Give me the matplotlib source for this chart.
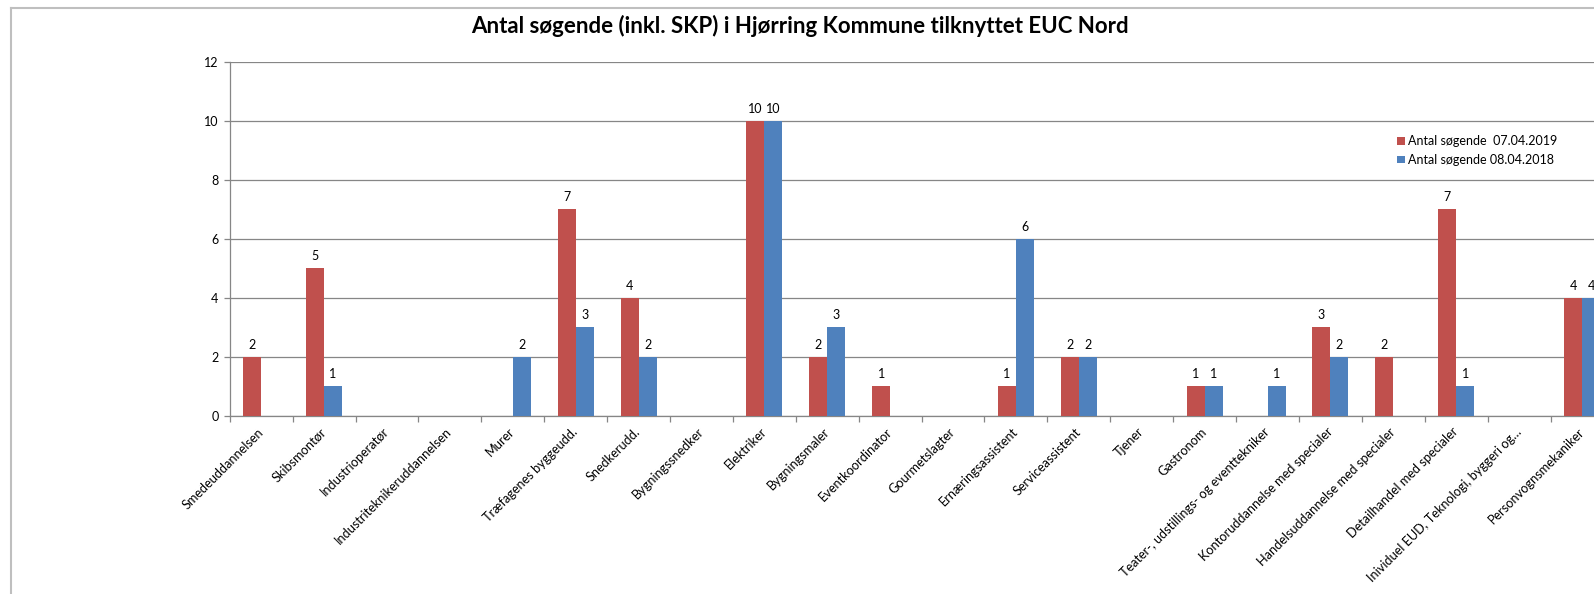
import matplotlib

matplotlib.use("Agg")
import matplotlib.pyplot as plt
import numpy as np
from matplotlib.lines import Line2D
from matplotlib.patches import Patch

plt.rcParams["font.family"] = ["Lato", "DejaVu Sans"]

title = "Antal søgende (inkl. SKP) i Hjørring Kommune tilknyttet EUC Nord"

categories = [
    "Smedeuddannelsen",
    "Skibsmontør",
    "Industrioperatør",
    "Industriteknikeruddannelsen",
    "Murer",
    "Træfagenes byggeudd.",
    "Snedkerudd.",
    "Bygningssnedker",
    "Elektriker",
    "Bygningsmaler",
    "Eventkoordinator",
    "Gourmetslagter",
    "Ernæringsassistent",
    "Serviceassistent",
    "Tjener",
    "Gastronom",
    "Teater-, udstillings- og eventtekniker",
    "Kontoruddannelse med specialer",
    "Handelsuddannelse med specialer",
    "Detailhandel med specialer",
    "Inividuel EUD, Teknologi, byggeri og…",
    "Personvognsmekaniker",
]

soegende_2019 = [2, 5, 0, 0, 0, 7, 4, 0, 10, 2, 1, 0, 1, 2, 0, 1, 0, 3, 2, 7, 0, 4]
soegende_2018 = [0, 1, 0, 0, 2, 3, 2, 0, 10, 3, 0, 0, 6, 2, 0, 1, 1, 2, 0, 1, 0, 4]

label_2019 = "Antal søgende  07.04.2019"
label_2018 = "Antal søgende 08.04.2018"

RED = "#C0504D"
BLUE = "#4F81BD"
GRID = "#868686"

W, H = 1594, 594
fig = plt.figure(figsize=(W / 100, H / 100), dpi=100)

# plot area runs past the right edge of the picture, as in the reference
x0, y0, y1 = 229.7, 416.0, 61.7
step = 62.9
n_slots = 23
ax = fig.add_axes([x0 / W, 1 - y0 / H, n_slots * step / W, (y0 - y1) / H])

x = np.arange(len(categories))
bw = 0.286
bars_a = ax.bar(x - bw / 2, soegende_2019, bw, color=RED, zorder=3)
bars_b = ax.bar(x + bw / 2, soegende_2018, bw, color=BLUE, zorder=3)

for bars in (bars_a, bars_b):
    for b in bars:
        h = b.get_height()
        if h > 0:
            ax.annotate(f"{h:g}", (b.get_x() + b.get_width() / 2, h),
                        xytext=(0, 12), textcoords="offset pixels",
                        ha="center", va="center", fontsize=9, color="#000000")

ax.set_xlim(-0.5, n_slots - 0.5)
ax.set_ylim(0, 12)
ax.set_yticks(range(0, 13, 2))
ax.yaxis.grid(True, color=GRID, linewidth=0.9)
ax.set_axisbelow(True)

ax.set_xticks(x)
ax.set_xticklabels(categories, rotation=45, ha="right", va="center",
                   rotation_mode="anchor", fontsize=9.2)
ax.set_xticks(np.arange(-0.5, n_slots, 1.0), minor=True)
ax.tick_params(axis="x", which="major", length=0, pad=10)
ax.tick_params(axis="x", which="minor", length=4, color=GRID, width=0.9)
ax.tick_params(axis="y", length=4, color=GRID, width=0.9, labelsize=9, pad=4)

for side in ("top", "right"):
    ax.spines[side].set_visible(False)
for side in ("left", "bottom"):
    ax.spines[side].set_color(GRID)
    ax.spines[side].set_linewidth(0.9)

fig.text(800 / W, 1 - 26 / H, title, ha="center", va="center",
         fontsize=16, fontweight="bold")

handles = [Patch(facecolor=RED, label=label_2019), Patch(facecolor=BLUE, label=label_2018)]
fig.legend(handles=handles, loc="upper left", bbox_to_anchor=(1392 / W, 1 - 130 / H),
           frameon=False, fontsize=9, handlelength=0.6, handleheight=0.6,
           handletextpad=0.3, labelspacing=0.55, borderaxespad=0)

# outer chart border (top and left visible)
border = dict(color="#BFBFBF", linewidth=1.5, transform=fig.transFigure)
fig.add_artist(Line2D([10.5 / W, 1], [1 - 7.5 / H] * 2, **border))
fig.add_artist(Line2D([10.5 / W] * 2, [0, 1 - 7.5 / H], **border))

fig.savefig("out.png", dpi=100)
